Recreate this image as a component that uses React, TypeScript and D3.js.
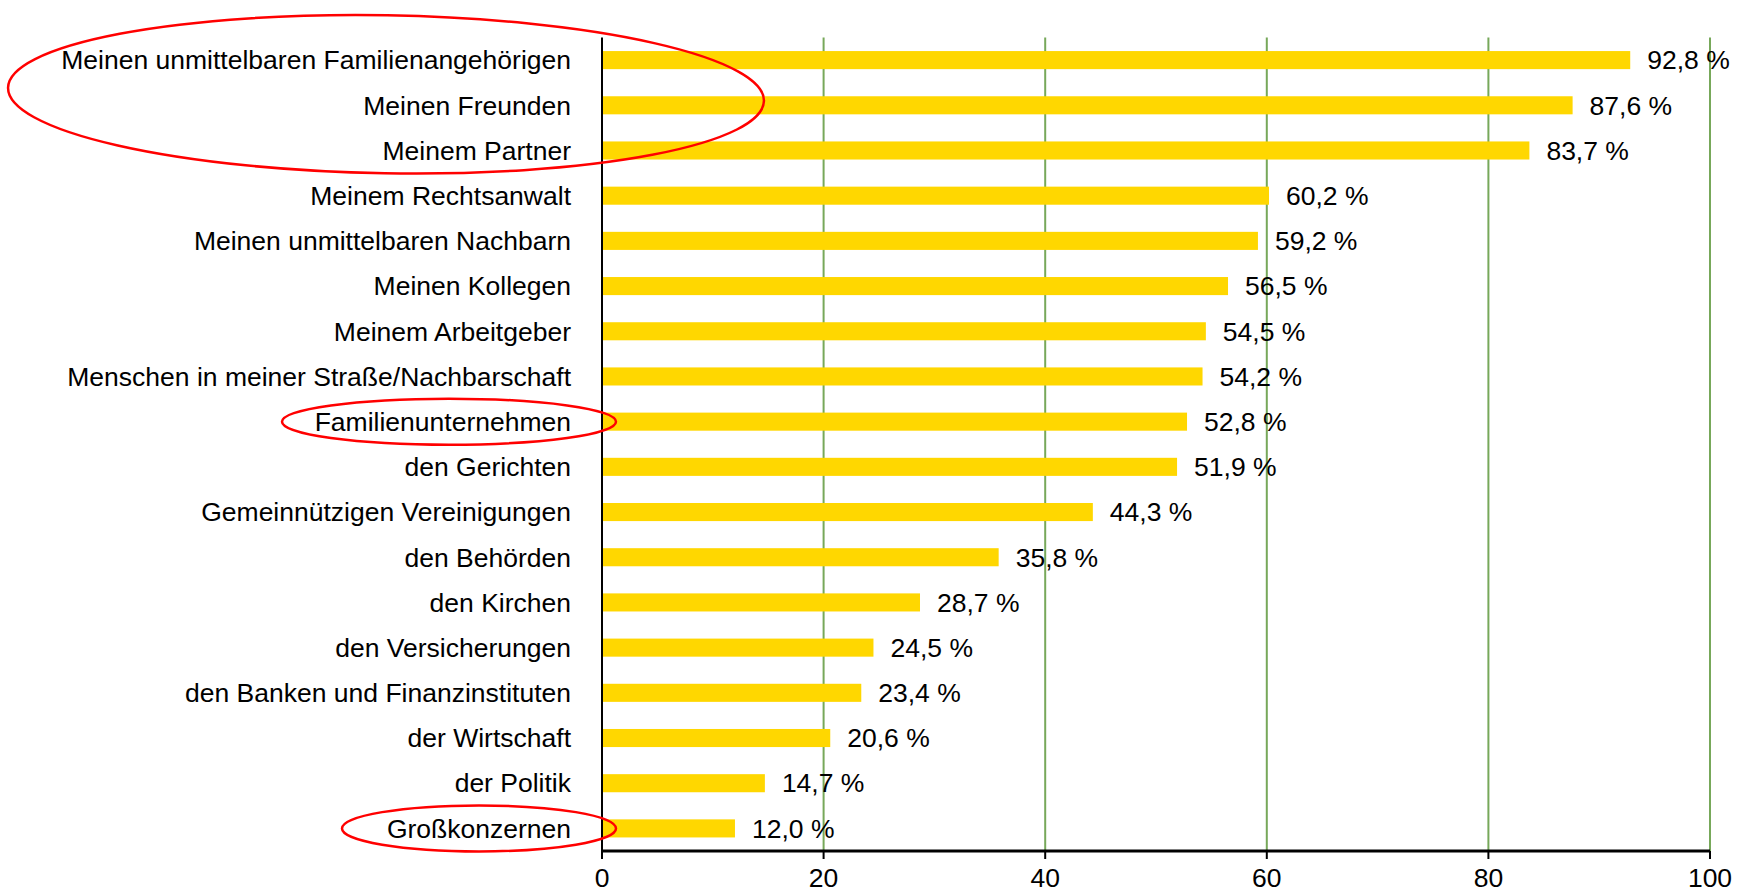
import * as d3 from "d3";

const categories = [
  "Meinen unmittelbaren Familienangehörigen",
  "Meinen Freunden",
  "Meinem Partner",
  "Meinem Rechtsanwalt",
  "Meinen unmittelbaren Nachbarn",
  "Meinen Kollegen",
  "Meinem Arbeitgeber",
  "Menschen in meiner Straße/Nachbarschaft",
  "Familienunternehmen",
  "den Gerichten",
  "Gemeinnützigen Vereinigungen",
  "den Behörden",
  "den Kirchen",
  "den Versicherungen",
  "den Banken und Finanzinstituten",
  "der Wirtschaft",
  "der Politik",
  "Großkonzernen",
];

const values = [92.8, 87.6, 83.7, 60.2, 59.2, 56.5, 54.5, 54.2, 52.8, 51.9, 44.3, 35.8, 28.7, 24.5, 23.4, 20.6, 14.7, 12.0];

const xTicks = [0, 20, 40, 60, 80, 100];

const W = 1748;
const H = 894;
const FONT = "'Liberation Sans', Arial, sans-serif";
const FS = 26.5;

export default function App() {
  const x = d3.scaleLinear().domain([0, 100]).range([602, 1710]);
  const y = d3.scaleBand<string>().domain(categories).range([37.5, 851]).paddingInner(0.6).paddingOuter(0.3);
  const bottom = 851;
  const top = 37.5;
  const fmt = (v: number) => v.toFixed(1).replace(".", ",") + " %";
  const cy = (i: number) => (y(categories[i]) ?? 0) + y.bandwidth() / 2;

  // red highlight ellipses around the circled categories
  const ell = [
    { cx: 386, cy: (cy(0) + cy(2)) / 2 - 11, rx: 378, ry: 79, rot: 1 },
    { cx: 449, cy: cy(8), rx: 167, ry: 23, rot: 0 },
    { cx: 479, cy: cy(17), rx: 137, ry: 23, rot: 0 },
  ];

  return (
    <svg width={W} height={H} style={{ position: "absolute", left: 0, top: 0 }} fontFamily={FONT}>
      <rect width={W} height={H} fill="#fff" />
      {xTicks.slice(1).map((t) => (
        <line key={t} x1={x(t)} x2={x(t)} y1={top} y2={bottom} stroke="#77A85A" strokeWidth={2} />
      ))}
      {categories.map((c, i) => (
        <g key={c}>
          <rect x={x(0)} y={y(c)} width={x(values[i]) - x(0)} height={y.bandwidth()} fill="#FFD700" />
          <text x={571} y={cy(i)} dy="0.35em" textAnchor="end" fontSize={FS} fill="#000">
            {c}
          </text>
          <text x={x(values[i]) + 17} y={cy(i)} dy="0.35em" fontSize={FS} fill="#000">
            {fmt(values[i])}
          </text>
        </g>
      ))}
      <line x1={x(0)} x2={x(0)} y1={top} y2={bottom + 8} stroke="#000" strokeWidth={2} />
      <line x1={x(0)} x2={x(100)} y1={bottom} y2={bottom} stroke="#000" strokeWidth={3} />
      {xTicks.map((t) => (
        <g key={t}>
          <line x1={x(t)} x2={x(t)} y1={bottom} y2={bottom + 8} stroke="#000" strokeWidth={2} />
          <text x={x(t)} y={878} dy="0.35em" textAnchor="middle" fontSize={FS}>
            {t}
          </text>
        </g>
      ))}
      {ell.map((e, i) => (
        <ellipse
          key={i}
          cx={e.cx}
          cy={e.cy}
          rx={e.rx}
          ry={e.ry}
          fill="none"
          stroke="#FF0000"
          strokeWidth={2.5}
          transform={`rotate(${e.rot} ${e.cx} ${e.cy})`}
        />
      ))}
    </svg>
  );
}
